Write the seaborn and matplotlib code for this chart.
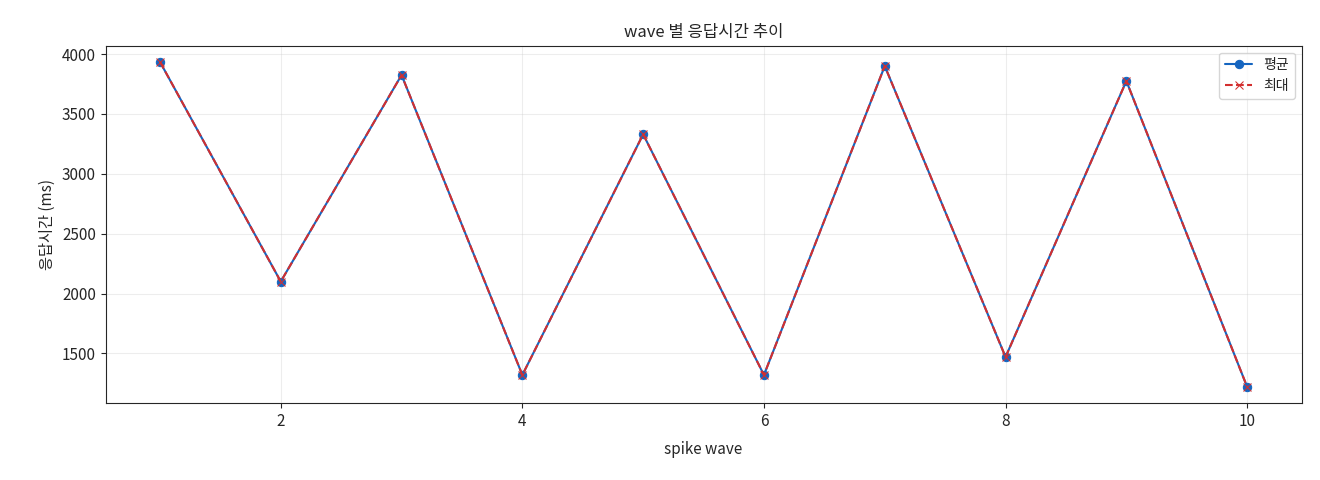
import pandas as pd
import matplotlib.pyplot as plt
import seaborn as sns

waves = [1, 2, 3, 4, 5, 6, 7, 8, 9, 10]
avg_ms = [3935, 2100, 3825, 1320, 3330, 1320, 3900, 1470, 3775, 1220]
max_ms = [3935, 2100, 3825, 1320, 3330, 1320, 3900, 1470, 3775, 1220]

sns.set_style("ticks")
plt.rcParams['font.family'] = ['Noto Sans CJK KR', 'DejaVu Sans']
plt.rcParams['font.size'] = 11

df = pd.DataFrame({"wave": waves, "avg": avg_ms, "max": max_ms})

fig, ax = plt.subplots(figsize=(13.2, 4.8), dpi=100)
sns.lineplot(x="wave", y="avg", data=df, marker="o", color="#1565C0",
             markeredgecolor="#1565C0", markersize=6, label="평균", ax=ax)
sns.lineplot(x="wave", y="max", data=df, marker="x", color="#D32F2F",
             linestyle="--", markeredgecolor="#D32F2F", markersize=6,
             label="최대", ax=ax)
ax.set_title("wave 별 응답시간 추이", fontsize=12)
ax.set_xlabel("spike wave", labelpad=8)
ax.set_ylabel("응답시간 (ms)")
ax.grid(True, alpha=0.35)
ax.legend(loc="upper right", fontsize=10)
fig.subplots_adjust(left=0.08, right=0.986, top=0.905, bottom=0.16)
fig.savefig("out.png")
